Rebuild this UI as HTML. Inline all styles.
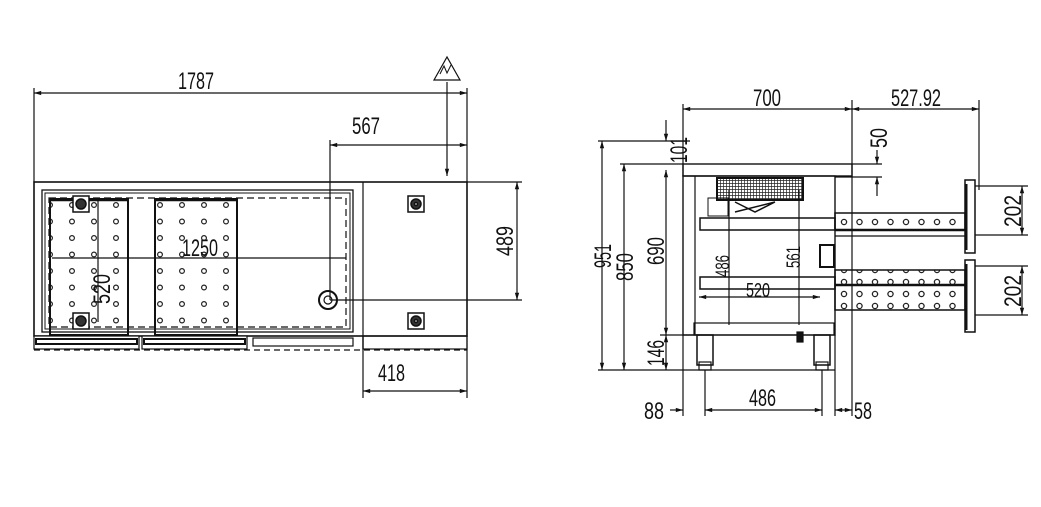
<!DOCTYPE html>
<html><head><meta charset="utf-8"><style>
html,body{margin:0;padding:0;background:#fff;}
svg{display:block}
text{font-family:"Liberation Sans Narrow","Liberation Sans",sans-serif;font-size:24px;fill:#111;}
</style></head><body>
<svg width="1041" height="507" viewBox="0 0 1041 507" xmlns="http://www.w3.org/2000/svg">
<defs>
<marker id="a" viewBox="0 0 10 10" refX="10" refY="5" markerWidth="8" markerHeight="6" orient="auto-start-reverse"><path d="M0,2 L10,5 L0,8 z" fill="#111"/></marker>
<pattern id="dots" x="0" y="0" width="22" height="16.5" patternUnits="userSpaceOnUse"><circle cx="6" cy="7" r="2.4" fill="none" stroke="#222" stroke-width="1.2"/></pattern>
<pattern id="dots2" x="0" y="0" width="15.5" height="12" patternUnits="userSpaceOnUse"><circle cx="7" cy="6" r="2.6" fill="none" stroke="#222" stroke-width="1.3"/></pattern>
<pattern id="grid" x="0" y="0" width="3" height="3" patternUnits="userSpaceOnUse"><rect width="3" height="3" fill="#fff"/><path d="M0,0 h3 M0,0 v3" stroke="#222" stroke-width="1.4"/></pattern>
</defs>
<g stroke="#111" stroke-width="1.2" fill="none">
<line x1="34" y1="88" x2="34" y2="182"/><line x1="467" y1="88" x2="467" y2="182"/>
<line x1="34" y1="93" x2="467" y2="93" marker-start="url(#a)" marker-end="url(#a)"/>
<line x1="330" y1="140" x2="330" y2="300"/>
<line x1="330" y1="145" x2="467" y2="145" marker-start="url(#a)" marker-end="url(#a)"/>
<line x1="447" y1="82" x2="447" y2="176" marker-end="url(#a)"/>
<path d="M434,80 L447,57 L460,80 Z"/>
<path d="M440,74 l4,-8 l3,7 l4,-8" stroke-width="1"/>
<line x1="467" y1="182" x2="522" y2="182"/><line x1="330" y1="300" x2="522" y2="300"/>
<line x1="517" y1="182" x2="517" y2="300" marker-start="url(#a)" marker-end="url(#a)"/>
<line x1="363" y1="336" x2="363" y2="398"/><line x1="467" y1="336" x2="467" y2="398"/>
<line x1="363" y1="391" x2="467" y2="391" marker-start="url(#a)" marker-end="url(#a)"/>
<rect x="34" y="182" width="433" height="154" stroke-width="1.6"/>
<line x1="363" y1="182" x2="363" y2="349"/>
<rect x="363" y="336" width="104" height="13"/>
<rect x="42" y="190" width="311" height="142" stroke-width="1.3"/>
<rect x="45" y="193" width="305" height="136" stroke-width="1"/>
<rect x="49" y="198" width="297" height="129" stroke-dasharray="7,4"/>
<rect x="50" y="199" width="78" height="136" fill="url(#dots)" stroke-width="2"/>
<rect x="155" y="199" width="82" height="136" fill="url(#dots)" stroke-width="2"/>
<line x1="50" y1="200" x2="128" y2="200" stroke-width="2.5"/>
<line x1="155" y1="200" x2="237" y2="200" stroke-width="2.5"/>
<line x1="52" y1="258" x2="346" y2="258"/>
<line x1="98" y1="199" x2="98" y2="322"/>
<g fill="#fff" stroke-width="1.5">
<rect x="73" y="196" width="16" height="16"/><circle cx="81" cy="204" r="5" fill="#333"/>
<rect x="73" y="313" width="16" height="16"/><circle cx="81" cy="321" r="5" fill="#333"/>
<rect x="408" y="196" width="16" height="16"/><circle cx="416" cy="204" r="5" fill="#333"/><circle cx="416" cy="204" r="1.5" fill="#fff"/>
<rect x="408" y="313" width="16" height="16"/><circle cx="416" cy="321" r="5" fill="#333"/><circle cx="416" cy="321" r="1.5" fill="#fff"/>
</g>
<circle cx="328" cy="300" r="9" stroke-width="2"/><circle cx="328" cy="300" r="4"/>
<rect x="34" y="336" width="105" height="13" fill="#fff"/>
<rect x="36" y="339" width="101" height="5" stroke-width="2"/>
<rect x="142" y="336" width="105" height="13" fill="#fff"/>
<rect x="144" y="339" width="101" height="5" stroke-width="2"/>
<rect x="253" y="338" width="100" height="8"/>
<line x1="34" y1="350" x2="467" y2="350" stroke-dasharray="6,4"/>
<line x1="683" y1="104" x2="683" y2="176"/><line x1="852" y1="100" x2="852" y2="176"/><line x1="979" y1="100" x2="979" y2="190"/>
<line x1="683" y1="109" x2="852" y2="109" marker-start="url(#a)" marker-end="url(#a)"/>
<line x1="852" y1="109" x2="979" y2="109" marker-start="url(#a)" marker-end="url(#a)"/>
<line x1="598" y1="141" x2="690" y2="141"/><line x1="620" y1="164" x2="683" y2="164"/>
<line x1="602" y1="141" x2="602" y2="370" marker-start="url(#a)" marker-end="url(#a)"/>
<line x1="624" y1="164" x2="624" y2="370" marker-start="url(#a)" marker-end="url(#a)"/>
<line x1="666" y1="120" x2="666" y2="141" marker-end="url(#a)"/>
<line x1="666" y1="170" x2="666" y2="335" marker-start="url(#a)" marker-end="url(#a)"/>
<line x1="666" y1="335" x2="666" y2="370" marker-start="url(#a)" marker-end="url(#a)"/>
<line x1="660" y1="335" x2="700" y2="335"/>
<line x1="598" y1="370" x2="835" y2="370"/>
<line x1="877" y1="150" x2="877" y2="164" marker-end="url(#a)"/>
<line x1="877" y1="196" x2="877" y2="177" marker-end="url(#a)"/>
<line x1="852" y1="164" x2="882" y2="164"/><line x1="835" y1="177" x2="882" y2="177"/>
<rect x="683" y="164" width="169" height="12" stroke-width="1.4"/>
<rect x="683" y="176" width="152" height="159" stroke-width="1.4"/>
<line x1="695" y1="176" x2="695" y2="335"/>
<rect x="694" y="323" width="140" height="12"/>
<rect x="717" y="178" width="86" height="22" fill="url(#grid)" stroke-width="2"/>
<path d="M735,202 l20,10 l20,-10 M735,212 l40,-10" stroke-width="1.5"/>
<rect x="708" y="198" width="20" height="18" stroke-width="1"/>
<rect x="700" y="218" width="135" height="12" stroke-width="1.5"/>
<rect x="700" y="277" width="135" height="12" stroke-width="1.5"/>
<line x1="729" y1="190" x2="729" y2="325"/><line x1="799" y1="190" x2="799" y2="325"/>
<line x1="699" y1="297" x2="820" y2="297" marker-start="url(#a)" marker-end="url(#a)"/>
<rect x="820" y="245" width="14" height="22" stroke-width="2"/>
<rect x="835" y="213" width="130" height="17" fill="url(#dots2)" stroke-width="1.5"/>
<line x1="835" y1="230" x2="965" y2="230" stroke-width="2.5"/><line x1="835" y1="236" x2="965" y2="236"/>
<rect x="835" y="270" width="130" height="40" fill="url(#dots2)" stroke-width="1.5"/>
<line x1="835" y1="285" x2="965" y2="285" stroke-width="2.5"/>
<rect x="965" y="180" width="10" height="73" stroke-width="1.5"/><line x1="966" y1="184" x2="966" y2="250" stroke-width="3"/>
<rect x="965" y="260" width="10" height="72" stroke-width="1.5"/><line x1="966" y1="264" x2="966" y2="330" stroke-width="3"/>
<line x1="975" y1="186" x2="1028" y2="186"/><line x1="975" y1="235" x2="1028" y2="235"/>
<line x1="975" y1="266" x2="1028" y2="266"/><line x1="975" y1="315" x2="1028" y2="315"/>
<line x1="1022" y1="186" x2="1022" y2="235" marker-start="url(#a)" marker-end="url(#a)"/>
<line x1="1022" y1="266" x2="1022" y2="315" marker-start="url(#a)" marker-end="url(#a)"/>
<rect x="697" y="335" width="16" height="30" stroke-width="1.5"/><rect x="699" y="362" width="12" height="8"/>
<rect x="814" y="335" width="16" height="30" stroke-width="1.5"/><rect x="816" y="362" width="12" height="8"/>
<rect x="797" y="332" width="6" height="10" fill="#111"/>
<line x1="683" y1="335" x2="683" y2="416"/><line x1="705" y1="370" x2="705" y2="416"/>
<line x1="822" y1="370" x2="822" y2="416"/><line x1="835" y1="335" x2="835" y2="416"/><line x1="852" y1="176" x2="852" y2="416"/>
<line x1="670" y1="410" x2="683" y2="410" marker-end="url(#a)"/>
<line x1="705" y1="410" x2="822" y2="410" marker-start="url(#a)" marker-end="url(#a)"/>
<line x1="835" y1="410" x2="852" y2="410" marker-start="url(#a)" marker-end="url(#a)"/>
</g>
<text x="178" y="89" textLength="36" lengthAdjust="spacingAndGlyphs">1787</text>
<text x="352" y="134" textLength="28" lengthAdjust="spacingAndGlyphs">567</text>
<text x="182" y="256" textLength="36" lengthAdjust="spacingAndGlyphs">1250</text>
<text transform="translate(513,256) rotate(-90)" textLength="30" lengthAdjust="spacingAndGlyphs">489</text>
<text transform="translate(110,304) rotate(-90)" textLength="30" lengthAdjust="spacingAndGlyphs">520</text>
<text x="378" y="381" textLength="27" lengthAdjust="spacingAndGlyphs">418</text>
<text x="753" y="106" textLength="28" lengthAdjust="spacingAndGlyphs">700</text>
<text x="891" y="106" textLength="50" lengthAdjust="spacingAndGlyphs">527.92</text>
<text transform="translate(887,148) rotate(-90)" textLength="20" lengthAdjust="spacingAndGlyphs">50</text>
<text transform="translate(687,163) rotate(-90)" textLength="26" lengthAdjust="spacingAndGlyphs">101</text>
<text transform="translate(611,268) rotate(-90)" textLength="24" lengthAdjust="spacingAndGlyphs">951</text>
<text transform="translate(633,281) rotate(-90)" textLength="28" lengthAdjust="spacingAndGlyphs">850</text>
<text transform="translate(664,265) rotate(-90)" textLength="28" lengthAdjust="spacingAndGlyphs">690</text>
<text transform="translate(664,366) rotate(-90)" textLength="26" lengthAdjust="spacingAndGlyphs">146</text>
<text transform="translate(729,277) rotate(-90)" textLength="22" lengthAdjust="spacingAndGlyphs" style="font-size:19px">486</text>
<text transform="translate(800,268) rotate(-90)" textLength="22" lengthAdjust="spacingAndGlyphs" style="font-size:19px">561</text>
<text x="746" y="297" textLength="24" lengthAdjust="spacingAndGlyphs" style="font-size:20px">520</text>
<text transform="translate(1021,227) rotate(-90)" textLength="32" lengthAdjust="spacingAndGlyphs">202</text>
<text transform="translate(1021,307) rotate(-90)" textLength="32" lengthAdjust="spacingAndGlyphs">202</text>
<text x="644" y="419" textLength="20" lengthAdjust="spacingAndGlyphs">88</text>
<text x="749" y="406" textLength="27" lengthAdjust="spacingAndGlyphs">486</text>
<text x="854" y="419" textLength="18" lengthAdjust="spacingAndGlyphs">58</text>
</svg>
</body></html>
